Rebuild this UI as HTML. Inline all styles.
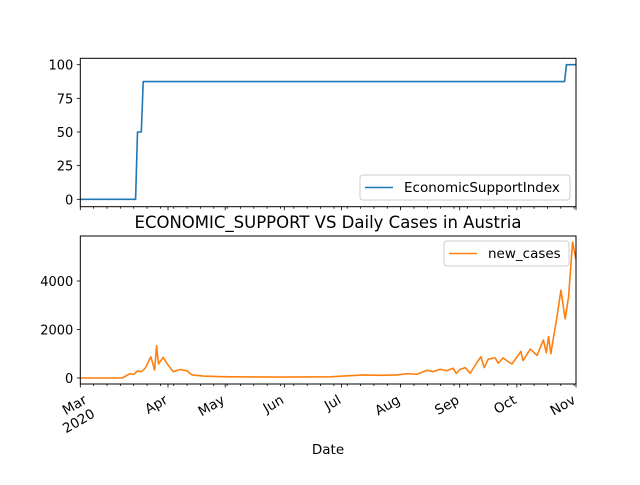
<!DOCTYPE html>
<html><head><meta charset="utf-8"><style>
body{margin:0;background:#fff;}
svg text{font-family:"DejaVu Sans","Liberation Sans",sans-serif;fill:#000;}
</style></head><body>
<svg id="chart" width="640" height="480" viewBox="0 0 640 480" xmlns="http://www.w3.org/2000/svg"></svg>
<script>
// Day offsets counted from the left edge of the x axis
const monthLabels = ["Mar\n2020","Apr","May","Jun","Jul","Aug","Sep","Oct","Nov"];
const monthDays = [0, 46, 76, 107, 137, 168, 199, 229, 260];
const supportDays = [0, 29, 30, 32, 33, 254, 255, 260];
const supportValues = [0, 0, 50, 50, 87.5, 87.5, 100, 100];
const topTicks = [0, 25, 50, 75, 100];
const casesDays = [0,22,26,28,30,32,34,37,39,40,41,43.5,45.6,48.8,52.4,56,58.7,64.5,72,78.7,90,104.9,118,131.1,140,148.4,158,166.1,172,176.6,181.8,185,188.8,192,195.6,197.2,199,201.9,204.5,208,210.1,211.9,214,217.6,219.2,221.8,224,226.4,229,231.1,232.2,236,239.6,242.9,244.4,245.6,246.8,250,252.1,254.3,256.1,258.2,260];
const casesValues = [0,0,180,150,290,260,400,875,330,1330,580,850,580,260,350,290,125,80,60,50,45,40,45,50,90,125,110,125,180,150,320,260,360,300,400,190,350,430,190,640,875,430,780,830,610,830,700,580,860,1100,720,1190,930,1570,1040,1710,1000,2510,3620,2440,3340,5600,4880];
const bottomTicks = [0, 2000, 4000];

const NS="http://www.w3.org/2000/svg";
const svg=document.getElementById('chart');
function mk(tag,attrs,parent){const e=document.createElementNS(NS,tag);for(const k in attrs)e.setAttribute(k,attrs[k]);(parent||svg).appendChild(e);return e;}
const X0=80.3,X1=576;
const xs=d=>X0+(d/260)*(X1-X0);
const yTop=v=>199.3-(v/100)*134.6;
const yBot=v=>378-(v/4000)*97;

function frame(y0,y1,name){
  const r=mk('rect',{x:X0,y:y0,width:X1-X0,height:y1-y0,fill:'none',stroke:'#000','stroke-width':1});
  
  
}
function xticks(yb,labels){
  for(let d=7;d<260;d+=7){
    const t=mk('line',{x1:xs(d),x2:xs(d),y1:yb,y2:yb+2,stroke:'#000','stroke-width':0.8});
    
    
  }
  monthDays.forEach((d,i)=>{
    const t=mk('line',{x1:xs(d),x2:xs(d),y1:yb,y2:yb+3.5,stroke:'#000','stroke-width':0.8});
    
    
    if(labels){
      const parts=monthLabels[i].split('\n');
      const shift = i===0 ? 2 : -5;
      const g=mk('g',{transform:`translate(${xs(d)+shift},${yb+9}) rotate(-30)`});
      
      
      parts.forEach((p,j)=>{
        const tx=mk('text',{x:0,y:11+j*16,'text-anchor':'end','font-size':13.5},g);
        tx.textContent=p;
      });
    }
  });
}
function yticks(vals,fy){
  vals.forEach(v=>{
    const t=mk('line',{x1:X0-3.5,x2:X0,y1:fy(v),y2:fy(v),stroke:'#000','stroke-width':0.8});
    
    
    const tx=mk('text',{x:X0-7,y:fy(v)+5,'text-anchor':'end','font-size':13});
    
    
    tx.textContent=v;
  });
}
function line(days,vals,fy,color,name){
  const p=mk('polyline',{points:days.map((d,i)=>xs(d)+','+fy(vals[i])).join(' '),fill:'none',stroke:color,'stroke-width':1.6,'stroke-linejoin':'round'});
  
  
}
function legend(x,y,w,label,color,name){
  const g=mk('g',{});
  
  
  mk('rect',{x:x,y:y,width:w,height:25,rx:3,fill:'#fff','fill-opacity':0.8,stroke:'#ccc'},g);
  mk('line',{x1:x+5,x2:x+33,y1:y+12.5,y2:y+12.5,stroke:color,'stroke-width':1.6},g);
  const t=mk('text',{x:x+44,y:y+17,'font-size':13.5},g);t.textContent=label;
}

line(supportDays,supportValues,yTop,'#1f77b4','economic-support-line');
frame(58.3,206.7,'top-axes-frame');
yticks(topTicks,yTop);
xticks(206.7,false);
legend(360,175,210,'EconomicSupportIndex','#1f77b4','top-legend');

const title=mk('text',{x:328,y:228,'text-anchor':'middle','font-size':16.5});


title.textContent='ECONOMIC_SUPPORT VS Daily Cases in Austria';

line(casesDays,casesValues,yBot,'#ff7f0e','new-cases-line');
frame(236,384,'bottom-axes-frame');
yticks(bottomTicks,yBot);
xticks(384,true);
legend(444,241,125,'new_cases','#ff7f0e','bottom-legend');

const xt=mk('text',{x:328,y:454,'text-anchor':'middle','font-size':13.5});


xt.textContent='Date';
</script>
</body></html>
